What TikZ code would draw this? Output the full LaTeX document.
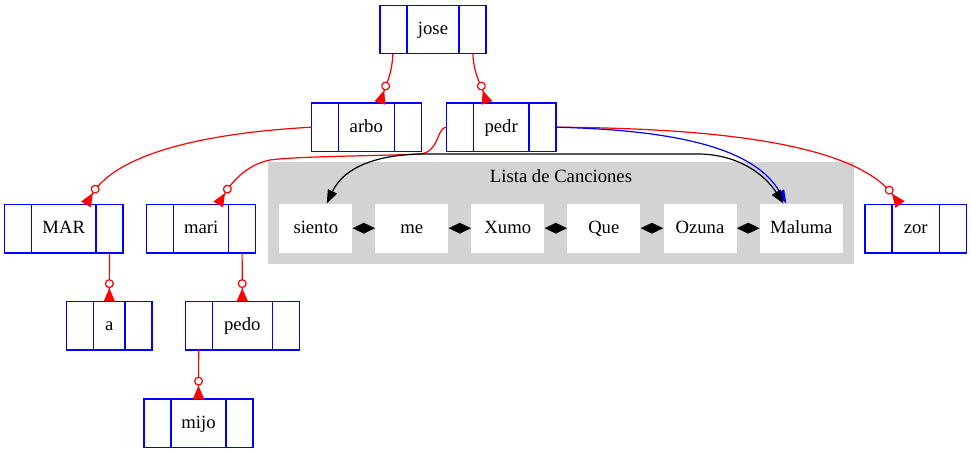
\documentclass[tikz,border=0pt]{standalone}
\usepackage{fontspec}
\setmainfont{Liberation Serif}
\usetikzlibrary{arrows.meta,calc}
\definecolor{recblue}{RGB}{0,0,255}
\definecolor{treered}{RGB}{255,0,0}
\definecolor{clgray}{RGB}{211,211,211}
\tikzset{
  txt/.style={font=\fontsize{14}{16}\selectfont, text height=9.5pt, text depth=2pt},
  rec/.style={txt, minimum height=36pt, inner sep=0pt},
  recline/.style={draw=recblue, line width=0.9pt},
  song/.style={txt, fill=white, minimum height=36.75pt, inner sep=0pt},
  tree/.style={draw=treered, line width=0.9pt,
    -{Circle[fill=white, length=6.75pt, width=6.75pt] Triangle[reversed, length=10pt, width=8.25pt]}},
  dl/.style={line width=0.9pt, {Triangle[length=8.6pt,width=8pt]}-{Triangle[length=8.6pt,width=8pt]}},
  big/.style={line width=0.9pt, {Triangle[length=10pt,width=7.5pt]}-{Triangle[length=10pt,width=7.5pt]}},
  bluearr/.style={draw=recblue, line width=0.9pt, -{Triangle[length=10pt,width=7.5pt]}},
}
\newcommand\recbox[5]{%
  \node[rec, minimum width=#4*0.75pt] (#1) at (#2,#3) {#5};
  \draw[recline] (#1.north west) rectangle (#1.south east);
  \draw[recline] ([xshift=20.25pt]#1.north west) -- ([xshift=20.25pt]#1.south west);
  \draw[recline] ([xshift=-20.25pt]#1.north east) -- ([xshift=-20.25pt]#1.south east);
}
\begin{document}
\begin{tikzpicture}[x=0.75pt, y=-0.75pt]
\useasboundingbox (0,0) rectangle (971,453);
% cluster
\node[fill=clgray, minimum width=585.7*0.75pt, minimum height=102*0.75pt, inner sep=0pt] (cluster) at (561.15,213.3) {};
\node[txt] (title) at (561,177) {Lista de Canciones};
\node[song, minimum width=73*0.75pt] (siento) at (315.8,228.2) {siento};
\node[song, minimum width=73*0.75pt] (me) at (411.8,228.2) {me};
\node[song, minimum width=73*0.75pt] (Xumo) at (507.8,228.2) {Xumo};
\node[song, minimum width=73*0.75pt] (Que) at (603.8,228.2) {Que};
\node[song, minimum width=73*0.75pt] (Ozuna) at (700,228.2) {Ozuna};
\node[song, minimum width=82.7*0.75pt] (Maluma) at (801.3,228.2) {Maluma};
\draw[dl] (siento) -- (me);
\draw[dl] (me) -- (Xumo);
\draw[dl] (Xumo) -- (Que);
\draw[dl] (Que) -- (Ozuna);
\draw[dl] (Ozuna) -- (Maluma);
% tree
\recbox{jose}{433}{29.5}{105.4}{jose}
\recbox{arbo}{366.3}{127.2}{109.3}{arbo}
\recbox{pedr}{501.2}{127.2}{109}{pedr}
\recbox{MAR}{63.7}{228.7}{118}{MAR}
\recbox{mari}{201.2}{228.7}{108.3}{mari}
\recbox{a}{109.3}{325.7}{84.7}{a}
\recbox{pedo}{242.3}{325.7}{113.3}{pedo}
\recbox{mijo}{198.5}{423.2}{108.4}{mijo}
\recbox{zor}{915.7}{228.7}{100.7}{zor}
% tree edges
\draw[tree] ($(jose.south west)+(12.7,0)$) .. controls +(0,18) and +(5,-15) .. ($(arbo.north)+(13.7,0)$);
\draw[tree] ($(jose.south east)+(-13,0)$) .. controls +(0,18) and +(-5,-15) .. ($(pedr.north)+(-14.2,0)$);
\draw[tree] (arbo.west) .. controls +(-110,6) and +(30,-50) .. ($(MAR.north)+(22.3,0)$);
\draw[tree] (pedr.west) .. controls +(-10,0) and +(20,-2) .. (420,154) .. controls +(-40,2) and +(30,-4) .. (270,160) .. controls +(-25,5) and +(12,-20) .. ($(mari.north)+(17,0)$);
\draw[tree] ($(mari.south east)+(-13.5,0)$) -- (pedo.north);
\draw[tree] ($(MAR.south east)+(-13.5,0)$) -- (a.north);
\draw[tree] ($(pedo.south west)+(13.3,0)$) -- (mijo.north);
\draw[tree] (pedr.east) .. controls +(165,1) and +(-45,-60) .. ($(zor.north)+(-15.7,0)$);
% list links
\draw[bluearr] (pedr.east) .. controls +(125,3) and +(-31,-54) .. ($(Maluma.north)+(-15,0)$);
\draw[big] ($(siento.north)+(11,0)$) .. controls +(18,-38) and +(-40,1) .. (420,154) -- (700,154) .. controls +(40,1) and +(-18,-28) .. ($(Maluma.north)+(-18,0)$);
\end{tikzpicture}
\end{document}
